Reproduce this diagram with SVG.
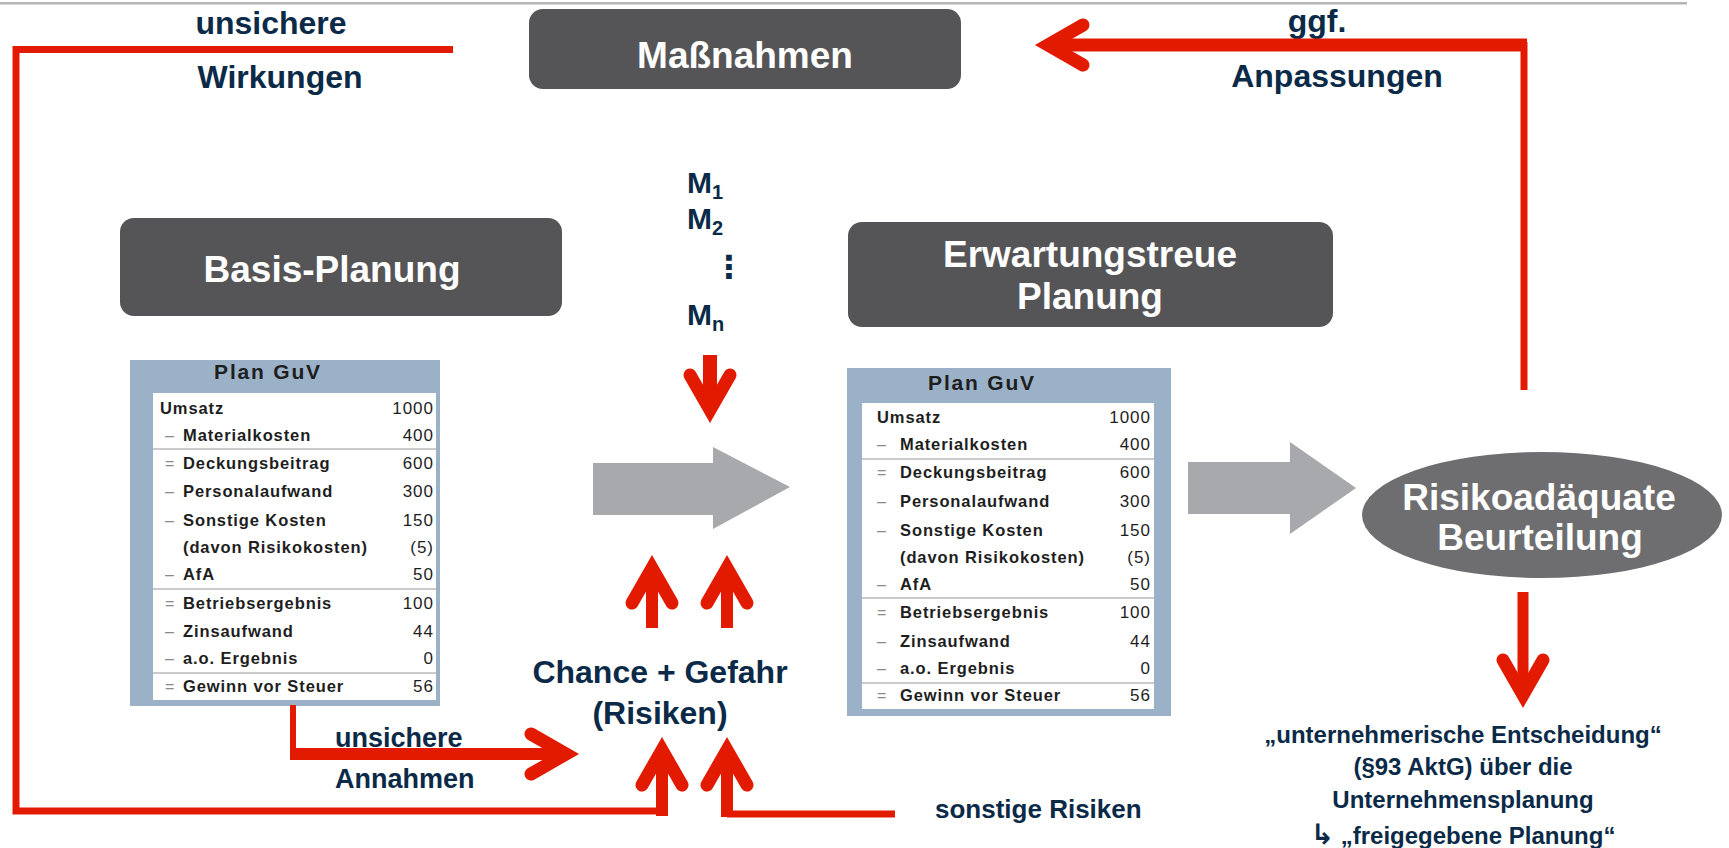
<svg xmlns="http://www.w3.org/2000/svg" width="1729" height="848" viewBox="0 0 1729 848">
<style>
text{font-family:"Liberation Sans",Arial,"DejaVu Sans",sans-serif;}
.box{fill:#555557;}
.boxt{fill:#ffffff;font-weight:bold;font-size:37px;text-anchor:middle;}
.lbl{fill:#0b2a48;font-weight:bold;}
.red{fill:none;stroke:#e21b00;stroke-linejoin:miter;}
.guvo{fill:#9ab1c7;}
.guvw{fill:#ffffff;}
.gh{fill:#1e1e1e;font-weight:bold;font-size:21px;letter-spacing:1.8px;text-anchor:middle;}
.gl{fill:#1e1e1e;font-weight:bold;font-size:16.5px;letter-spacing:0.9px;}
.gs{fill:#8a8a8a;font-size:16px;}
.gn{fill:#1e1e1e;font-size:17px;letter-spacing:1px;text-anchor:end;}
.sep{stroke:#b9b9b9;stroke-width:1.5;}
.garr{fill:#a8a9ad;}
</style>
<defs>
<marker id="ah" markerUnits="userSpaceOnUse" markerWidth="80" markerHeight="80" refX="0" refY="0" orient="auto" overflow="visible">
<polyline points="-34,-20 1,0 -34,20" fill="none" stroke="#e21b00" stroke-width="13" stroke-linecap="round" stroke-linejoin="miter"/>
</marker>
</defs>
<rect x="0" y="2" width="1687" height="2.5" fill="#b6b6b6"/>

<g id="massnahmen">
<rect class="box" x="529" y="9" width="432" height="80" rx="14"/>
<text class="boxt" x="745" y="68">Maßnahmen</text>
</g>

<g id="basis-planung">
<rect class="box" x="120" y="218" width="442" height="98" rx="14"/>
<text class="boxt" x="332" y="282">Basis-Planung</text>
</g>

<g id="erwartungstreue-planung">
<rect class="box" x="848" y="222" width="485" height="105" rx="14"/>
<text class="boxt" x="1090" y="267">Erwartungstreue</text>
<text class="boxt" x="1090" y="309">Planung</text>
</g>

<g id="risikoadaequate-beurteilung">
<ellipse cx="1542" cy="515" rx="180" ry="63" fill="#6e6e70"/>
<text class="boxt" x="1539" y="510">Risikoadäquate</text>
<text class="boxt" x="1540" y="550">Beurteilung</text>
</g>

<g id="guv-basis" transform="translate(130,360)">
<rect class="guvo" x="0" y="0" width="310" height="346"/>
<rect class="guvw" x="23" y="33" width="283" height="307"/>
<text class="gh" x="138" y="19">Plan GuV</text>
<line class="sep" x1="23" y1="89" x2="306" y2="89"/>
<line class="sep" x1="23" y1="229" x2="306" y2="229"/>
<line class="sep" x1="23" y1="313" x2="306" y2="313"/>
<text class="gl" x="30" y="54">Umsatz</text><text class="gn" x="304" y="54">1000</text>
<text class="gs" x="35" y="81">–</text><text class="gl" x="53" y="81">Materialkosten</text><text class="gn" x="304" y="81">400</text>
<text class="gs" x="35" y="109">=</text><text class="gl" x="53" y="109">Deckungsbeitrag</text><text class="gn" x="304" y="109">600</text>
<text class="gs" x="35" y="137">–</text><text class="gl" x="53" y="137">Personalaufwand</text><text class="gn" x="304" y="137">300</text>
<text class="gs" x="35" y="166">–</text><text class="gl" x="53" y="166">Sonstige Kosten</text><text class="gn" x="304" y="166">150</text>
<text class="gl" x="53" y="193">(davon Risikokosten)</text><text class="gn" x="304" y="193">(5)</text>
<text class="gs" x="35" y="220">–</text><text class="gl" x="53" y="220">AfA</text><text class="gn" x="304" y="220">50</text>
<text class="gs" x="35" y="249">=</text><text class="gl" x="53" y="249">Betriebsergebnis</text><text class="gn" x="304" y="249">100</text>
<text class="gs" x="35" y="277">–</text><text class="gl" x="53" y="277">Zinsaufwand</text><text class="gn" x="304" y="277">44</text>
<text class="gs" x="35" y="304">–</text><text class="gl" x="53" y="304">a.o. Ergebnis</text><text class="gn" x="304" y="304">0</text>
<text class="gs" x="35" y="332">=</text><text class="gl" x="53" y="332">Gewinn vor Steuer</text><text class="gn" x="304" y="332">56</text>
</g>

<g id="guv-erwartung" transform="translate(847,368)">
<rect class="guvo" x="0" y="0" width="324" height="348"/>
<rect class="guvw" x="15" y="35" width="292" height="306"/>
<text class="gh" x="135" y="22">Plan GuV</text>
<line class="sep" x1="15" y1="91" x2="307" y2="91"/>
<line class="sep" x1="15" y1="230" x2="307" y2="230"/>
<line class="sep" x1="15" y1="315" x2="307" y2="315"/>
<text class="gl" x="30" y="55">Umsatz</text><text class="gn" x="304" y="55">1000</text>
<text class="gs" x="30" y="82">–</text><text class="gl" x="53" y="82">Materialkosten</text><text class="gn" x="304" y="82">400</text>
<text class="gs" x="30" y="110">=</text><text class="gl" x="53" y="110">Deckungsbeitrag</text><text class="gn" x="304" y="110">600</text>
<text class="gs" x="30" y="139">–</text><text class="gl" x="53" y="139">Personalaufwand</text><text class="gn" x="304" y="139">300</text>
<text class="gs" x="30" y="168">–</text><text class="gl" x="53" y="168">Sonstige Kosten</text><text class="gn" x="304" y="168">150</text>
<text class="gl" x="53" y="195">(davon Risikokosten)</text><text class="gn" x="304" y="195">(5)</text>
<text class="gs" x="30" y="222">–</text><text class="gl" x="53" y="222">AfA</text><text class="gn" x="304" y="222">50</text>
<text class="gs" x="30" y="250">=</text><text class="gl" x="53" y="250">Betriebsergebnis</text><text class="gn" x="304" y="250">100</text>
<text class="gs" x="30" y="279">–</text><text class="gl" x="53" y="279">Zinsaufwand</text><text class="gn" x="304" y="279">44</text>
<text class="gs" x="30" y="306">–</text><text class="gl" x="53" y="306">a.o. Ergebnis</text><text class="gn" x="304" y="306">0</text>
<text class="gs" x="30" y="333">=</text><text class="gl" x="53" y="333">Gewinn vor Steuer</text><text class="gn" x="304" y="333">56</text>
</g>

<g id="massnahmen-liste">
<text class="lbl" font-size="30" x="687" y="193">M<tspan font-size="20" dy="6">1</tspan></text>
<text class="lbl" font-size="30" x="687" y="229">M<tspan font-size="20" dy="6">2</tspan></text>
<text class="lbl" font-size="32" x="713" y="278" style="font-family:'DejaVu Sans',sans-serif">⋮</text>
<text class="lbl" font-size="30" x="687" y="325">M<tspan font-size="20" dy="6">n</tspan></text>
</g>

<g id="chance-gefahr">
<text class="lbl" font-size="32" x="660" y="683" text-anchor="middle">Chance + Gefahr</text>
<text class="lbl" font-size="32" x="660" y="724" text-anchor="middle">(Risiken)</text>
</g>

<g id="entscheidung">
<text class="lbl" font-size="24" x="1463" y="743" text-anchor="middle">„unternehmerische Entscheidung“</text>
<text class="lbl" font-size="24" x="1463" y="775" text-anchor="middle">(§93 AktG) über die</text>
<text class="lbl" font-size="24" x="1463" y="808" text-anchor="middle">Unternehmensplanung</text>
<text class="lbl" font-size="24" x="1463" y="844" text-anchor="middle"><tspan font-size="28">↳</tspan> „freigegebene Planung“</text>
</g>

<g id="connector-labels">
<text class="lbl" font-size="32" x="271" y="34" text-anchor="middle">unsichere</text>
<text class="lbl" font-size="32" x="280" y="88" text-anchor="middle">Wirkungen</text>
<text class="lbl" font-size="32" x="1317" y="32" text-anchor="middle">ggf.</text>
<text class="lbl" font-size="32" x="1337" y="87" text-anchor="middle">Anpassungen</text>
<text class="lbl" font-size="27" x="335" y="747">unsichere</text>
<text class="lbl" font-size="27" x="335" y="788">Annahmen</text>
<text class="lbl" font-size="26" x="935" y="818">sonstige Risiken</text>
</g>

<g id="connectors">
<polygon class="garr" points="593,463 713,463 713,447 790,487 713,529 713,515 593,515"/>
<polygon class="garr" points="1188,462 1290,462 1290,442 1356,488 1290,534 1290,514 1188,514"/>
<path class="red" stroke-width="7" d="M453,49.5 H16 V811 H662"/>
<path class="red" stroke-width="12" d="M662,816 V751" marker-end="url(#ah)"/>
<path class="red" stroke-width="7" d="M895,814 H727"/>
<path class="red" stroke-width="12" d="M727,817 V751" marker-end="url(#ah)"/>
<path class="red" stroke-width="12" d="M652,628 V569" marker-end="url(#ah)"/>
<path class="red" stroke-width="12" d="M727,628 V569" marker-end="url(#ah)"/>
<path class="red" stroke-width="14" d="M710,355 V409" marker-end="url(#ah)"/>
<path class="red" stroke-width="6" d="M293,705 V757"/>
<path class="red" stroke-width="12" d="M290,754 H565" marker-end="url(#ah)"/>
<path class="red" stroke-width="7" d="M1524,390 V42"/>
<path class="red" stroke-width="13" d="M1527,45 H1049" marker-end="url(#ah)"/>
<path class="red" stroke-width="11" d="M1523,592 V694" marker-end="url(#ah)"/>
</g>
</svg>
